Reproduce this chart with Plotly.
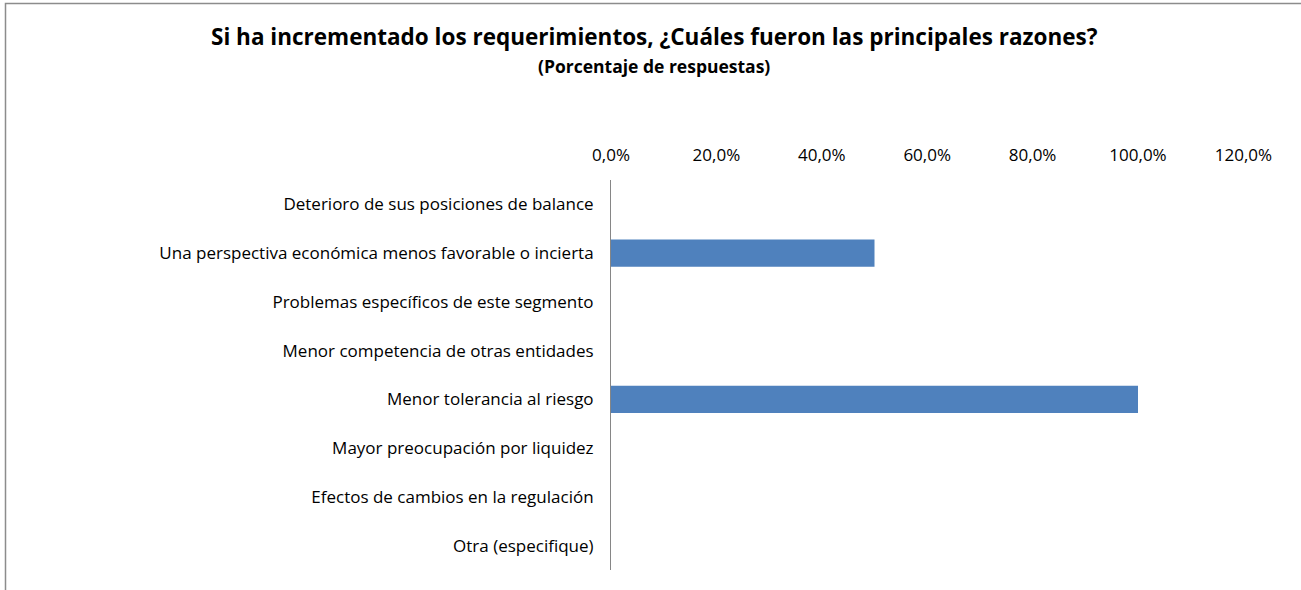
import plotly.graph_objects as go

categories = [
    "Deterioro de sus posiciones de balance",
    "Una perspectiva económica menos favorable o incierta",
    "Problemas específicos de este segmento",
    "Menor competencia de otras entidades",
    "Menor tolerancia al riesgo",
    "Mayor preocupación por liquidez",
    "Efectos de cambios en la regulación",
    "Otra (especifique)",
]
values = [0.0, 0.5, 0.0, 0.0, 1.0, 0.0, 0.0, 0.0]
tick_vals = [0, 0.2, 0.4, 0.6, 0.8, 1.0, 1.2]
tick_text = ["0,0%", "20,0%", "40,0%", "60,0%", "80,0%", "100,0%", "120,0%"]
title = "Si ha incrementado los requerimientos, ¿Cuáles fueron las principales razones?"
subtitle = "(Porcentaje de respuestas)"

W, H = 1301, 590
FONT = "Open Sans"

fig = go.Figure(go.Bar(
    x=values, y=categories, orientation="h",
    marker=dict(color="#4F81BD", line=dict(width=0)),
))

x0, x1 = 611, 1243.4
y0, y1 = 180, 570

fig.update_layout(
    width=W, height=H,
    margin=dict(l=0, r=0, t=0, b=0, pad=0, autoexpand=False),
    paper_bgcolor="white", plot_bgcolor="white",
    showlegend=False,
    bargap=0.44,
    font=dict(family=FONT, size=17, color="#000000"),
    xaxis=dict(
        domain=[x0 / W, x1 / W],
        range=[0, 1.2],
        side="top",
        automargin=False,
        tickvals=tick_vals, ticktext=tick_text,
        showgrid=False, zeroline=False, showline=False,
        ticks="", ticklabelstandoff=15,
        tickfont=dict(family=FONT, size=17, color="#000000"),
    ),
    yaxis=dict(
        domain=[1 - y1 / H, 1 - y0 / H],
        categoryorder="array", categoryarray=categories[::-1],
        automargin=False,
        showgrid=False, zeroline=False,
        showline=True, linecolor="#868686", linewidth=1,
        ticks="", ticklabelstandoff=13,
        tickfont=dict(family=FONT, size=17, color="#000000"),
    ),
    shapes=[dict(
        type="rect", xref="paper", yref="paper",
        x0=5.5 / W, x1=1.05, y0=-0.05, y1=1 - 3.5 / H,
        line=dict(color="#8C8C8C", width=1.5), fillcolor="rgba(0,0,0,0)",
        layer="below",
    )],
    annotations=[
        dict(text="<b>" + title + "</b>", x=654 / W, y=1 - 36 / H,
             xref="paper", yref="paper", showarrow=False,
             xanchor="center", yanchor="middle",
             font=dict(family=FONT, size=22.5, color="#000000")),
        dict(text="<b>" + subtitle + "</b>", x=654 / W, y=1 - 66 / H,
             xref="paper", yref="paper", showarrow=False,
             xanchor="center", yanchor="middle",
             font=dict(family=FONT, size=17.5, color="#000000")),
    ],
)

fig.write_html(
    "out.html",
    config={"displayModeBar": False},
    post_script="document.body.style.margin='0';document.body.style.overflow='hidden';",
)
